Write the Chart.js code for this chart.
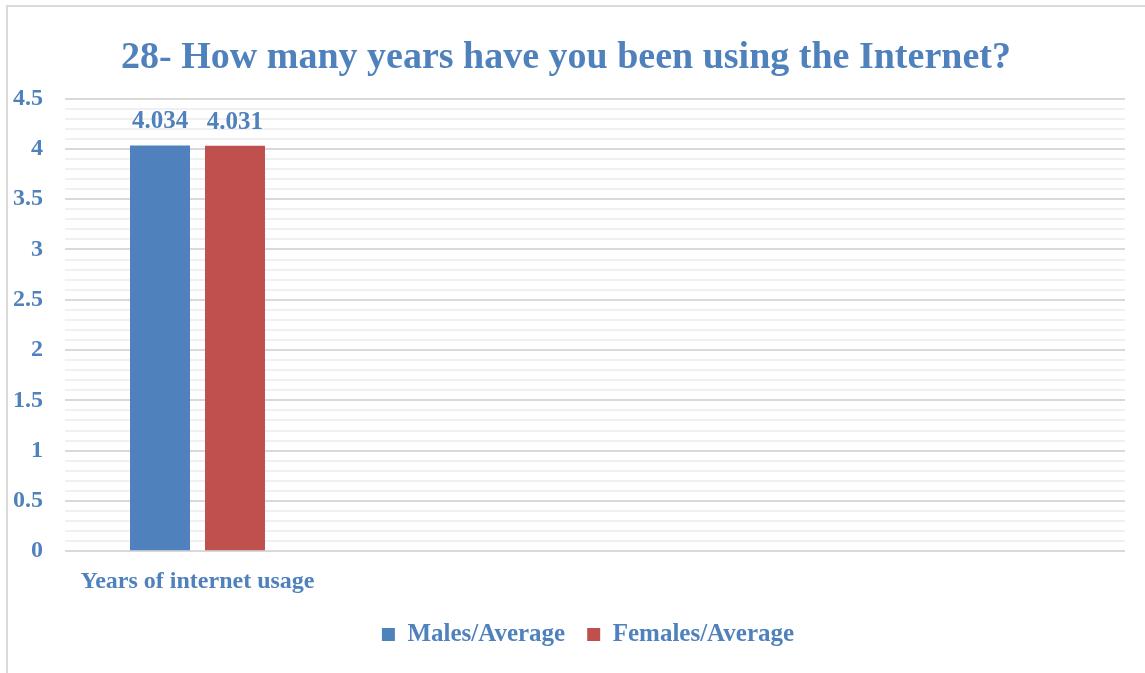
<!DOCTYPE html>
<html>
<head>
<meta charset="utf-8">
<script src="https://cdn.jsdelivr.net/npm/chart.js@4"></script>
<style>
  body { margin: 0; background: #fff; }
  #wrap { position: relative; width: 1145px; height: 673px; }
  #frame { position: absolute; left: 6px; top: 5px; right: 0; bottom: 0;
           border-left: 2px solid #d9d9d9; border-top: 2px solid #d9d9d9; }
  canvas { position: absolute; left: 0; top: 0; }
</style>
</head>
<body>
<div id="wrap">
  <div id="frame"></div>
  <canvas id="myChart" width="1145" height="673"></canvas>
</div>
<script>
var categories = ['Years of internet usage', '', '', ''];
var males = [4.034, null, null, null];
var females = [4.031, null, null, null];
var maleLabels = ['4.034', '', '', ''];
var femaleLabels = ['4.031', '', '', ''];

var textColor = '#4F81BD';
var fontFamily = '"Liberation Serif", "DejaVu Serif", serif';

// valeurs au-dessus des barres
var valueLabels = {
    id: 'valueLabels',
    afterDatasetsDraw: function (chart) {
        var ctx = chart.ctx;
        var texts = [maleLabels, femaleLabels];
        ctx.save();
        ctx.font = 'bold 25px ' + fontFamily;
        ctx.fillStyle = textColor;
        ctx.textAlign = 'center';
        ctx.textBaseline = 'bottom';
        chart.data.datasets.forEach(function (ds, i) {
            chart.getDatasetMeta(i).data.forEach(function (bar, j) {
                if (ds.data[j] == null) return;
                ctx.fillText(texts[i][j], bar.x, bar.y - 11);
            });
        });
        ctx.restore();
    }
};

// la légende est un peu décalée à droite dans l'original
var legendShift = {
    id: 'legendShift',
    afterLayout: function (chart) {
        var lg = chart.legend;
        lg.left += 22; lg.right += 22;
        lg.top -= 4; lg.bottom -= 4;
    }
};

var ctx = document.getElementById('myChart').getContext('2d');
var chart = new Chart(ctx, {
    type: 'bar',
    data: {
        labels: categories,
        datasets: [
            {
                label: 'Males/Average',
                data: males,
                backgroundColor: '#4F81BD'
            },
            {
                label: 'Females/Average',
                data: females,
                backgroundColor: '#C0504D'
            }
        ]
    },
    options: {
        responsive: false,
        animation: false,
        layout: { padding: { left: 7, right: 20, top: 8, bottom: 12 } },
        datasets: {
            bar: { categoryPercentage: 0.566, barPercentage: 0.8 }
        },
        plugins: {
            title: {
                display: true,
                text: '28- How many years have you been using the Internet?',
                color: textColor,
                font: { family: fontFamily, size: 38, weight: 'bold' },
                padding: { top: 27, bottom: 18 }
            },
            legend: {
                position: 'bottom',
                labels: {
                    color: textColor,
                    font: { family: fontFamily, size: 25, weight: 'bold' },
                    boxWidth: 13,
                    boxHeight: 13,
                    padding: 22
                }
            },
            tooltip: { enabled: false }
        },
        scales: {
            x: {
                grid: { display: false },
                border: { display: false },
                ticks: {
                    color: textColor,
                    font: { family: fontFamily, size: 24, weight: 'bold' },
                    padding: 8,
                    maxRotation: 0
                }
            },
            y: {
                min: 0,
                max: 4.5,
                border: { display: false },
                afterFit: function (s) { s.width = 58; },
                grid: {
                    lineWidth: 2,
                    drawTicks: false,
                    color: function (c) {
                        var v = Math.round(c.tick.value * 10);
                        return v % 5 === 0 ? '#d9d9d9' : '#f0f0f0';
                    }
                },
                ticks: {
                    stepSize: 0.1,
                    autoSkip: false,
                    padding: 22,
                    color: textColor,
                    font: { family: fontFamily, size: 24, weight: 'bold' },
                    callback: function (value) {
                        var v = Math.round(value * 10);
                        return v % 5 === 0 ? String(v / 10) : '';
                    }
                }
            }
        }
    },
    plugins: [valueLabels, legendShift]
});
</script>
</body>
</html>
